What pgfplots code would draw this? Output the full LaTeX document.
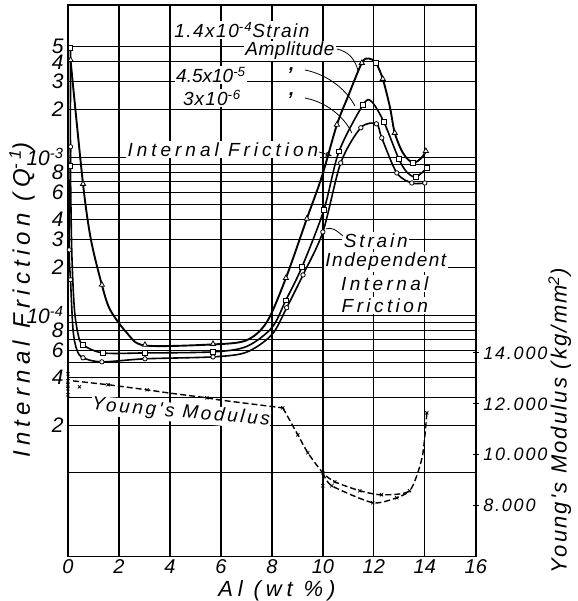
\documentclass[border=0pt]{standalone}
\usepackage{fontspec}
\setmainfont{Liberation Sans}
\newfontfamily\lz{Liberation Sans}
\newfontfamily\ltw{Liberation Sans}[LetterSpace=22]
\usepackage{pgfplots}
\pgfplotsset{compat=1.18}
\usetikzlibrary{calc,arrows.meta}

% annotation font with a given letter spacing
\newcommand{\ann}[1]{\fontsize{19}{21}\selectfont\lz\itshape\addfontfeature{LetterSpace=#1}}
\begin{document}
\begin{tikzpicture}
% ---------- internal friction (log axis, left) ----------
\begin{axis}[name=ax, scale only axis, width=408pt, height=552pt,
    xmin=0, xmax=16, ymode=log, ymin=2.94e-6, ymax=9.16e-3,
    xtick={0,2,...,16}, xticklabels={0,2,4,6,8,10,12,14,16},
    ytick={2e-5,4e-5,6e-5,8e-5,1e-4,2e-4,3e-4,4e-4,6e-4,8e-4,1e-3,2e-3,3e-3,4e-3,5e-3},
    yticklabels={2,4,6,8,10\textsuperscript{-4},2,3,4,6,8,10\textsuperscript{-3},2,3,4,5},
    minor ytick={1e-5,2e-5,3e-5,4e-5,5e-5,6e-5,7e-5,8e-5,9e-5,1e-4,2e-4,3e-4,4e-4,5e-4,6e-4,7e-4,8e-4,9e-4,1e-3,2e-3,3e-3,4e-3,5e-3},
    xmajorgrids=true, yminorgrids=true,
    major grid style={black, line width=1.3pt}, minor grid style={black, line width=0.7pt},
    major tick length=0pt, minor tick length=0pt,
    axis line style={line width=1.4pt},
    xticklabel style={font=\fontsize{20}{22}\selectfont\lz\itshape, yshift=1pt},
    yticklabel style={font=\fontsize{21}{23}\selectfont\lz\itshape, xshift=-1pt},
  ]
  % 1.4x10^-4 strain amplitude
  \addplot[black, line width=1.9pt, smooth, tension=0.5] coordinates {
    (0.1,4.11e-3)(0.59,6.75e-4)(0.9,3.0e-4)(1.33,1.55e-4)(1.65,1.08e-4)(2.31,7.7e-5)
    (3.02,6.4e-5)(5.69,6.5e-5)(7.0,6.9e-5)(7.8,9.0e-5)(8.55,1.71e-4)(9.37,4.06e-4)
    (9.96,7.5e-4)(10.55,1.6e-3)(10.98,2.4e-3)(11.53,3.94e-3)(11.8,4.2e-3)(12.08,3.94e-3)
    (12.35,3.12e-3)(12.63,2.07e-3)(12.82,1.42e-3)(13.14,1.06e-3)(13.53,9.16e-4)
    (13.88,9.9e-4)(14.04,1.09e-3)
  };
  % 4.5x10^-5
  \addplot[black, line width=1.6pt, smooth, tension=0.5] coordinates {
    (0.1,4.9e-3)(0.1,8.77e-4)(0.15,2.5e-4)(0.25,1.1e-4)(0.4,7.5e-5)(0.59,6.46e-5)
    (1.37,5.74e-5)(3.02,5.74e-5)(5.69,5.83e-5)(7.0,6.3e-5)(8.0,8.3e-5)(8.55,1.24e-4)
    (9.18,2.01e-4)(10.04,4.62e-4)(10.63,1.08e-3)(11.57,2.13e-3)(11.9,2.25e-3)
    (12.39,1.67e-3)(12.98,9.7e-4)(13.3,8.0e-4)(13.65,7.47e-4)(14.08,8.5e-4)
  };
  % 3x10^-6
  \addplot[black, line width=1.6pt, smooth, tension=0.5] coordinates {
    (0.1,1.16e-3)(0.05,2.58e-4)(0.1,1.67e-4)(0.2,8e-5)(0.35,6e-5)(0.59,5.35e-5)
    (1.33,5.04e-5)(3.02,5.27e-5)(5.69,5.42e-5)(7.0,5.8e-5)(8.0,7.5e-5)(8.58,1.11e-4)
    (9.22,1.79e-4)(10.0,3.35e-4)(10.7,9.16e-4)(11.49,1.53e-3)(12.1,1.62e-3)
    (12.31,1.32e-3)(12.9,7.92e-4)(13.49,6.84e-4)(14.0,6.84e-4)
  };
  % markers
  \addplot[only marks, mark=triangle*, mark size=3pt, mark options={fill=white, draw=black, line width=0.8pt}] coordinates {
    (0.1,4.11e-3)(0.59,6.75e-4)(1.33,1.55e-4)(3.02,6.46e-5)(5.69,6.55e-5)(8.55,1.71e-4)
    (9.37,4.06e-4)(10.55,1.6e-3)(11.53,3.94e-3)(12.35,3.12e-3)(12.82,1.42e-3)(14.04,1.09e-3)
  };
  \addplot[only marks, mark=square*, mark size=2.2pt, mark options={fill=white, draw=black, line width=0.8pt}] coordinates {
    (0.1,4.9e-3)(0.1,8.77e-4)(0.59,6.46e-5)(1.37,5.74e-5)(3.02,5.74e-5)(5.69,5.83e-5)
    (8.55,1.24e-4)(9.18,2.01e-4)(10.04,4.62e-4)(10.63,1.08e-3)(11.57,2.13e-3)
    (12.39,1.67e-3)(12.98,9.7e-4)(13.65,7.47e-4)(14.08,8.5e-4)(12.08,3.94e-3)(13.53,9.16e-4)
  };
  \addplot[only marks, mark=*, mark size=2.2pt, mark options={fill=white, draw=black, line width=0.8pt}] coordinates {
    (0.1,1.16e-3)(0.05,2.58e-4)(0.1,1.67e-4)(0.59,5.35e-5)(1.33,5.04e-5)(3.02,5.27e-5)
    (5.69,5.42e-5)(8.58,1.11e-4)(9.22,1.79e-4)(10.0,3.35e-4)(10.7,9.16e-4)(11.49,1.53e-3)
    (12.1,1.62e-3)(12.31,1.32e-3)(12.9,7.92e-4)(13.49,6.84e-4)(14.0,6.84e-4)
  };
\end{axis}

% ---------- texts, in pixel coordinates of the picture ----------
\begin{scope}[shift={($(ax.north west)+(-68pt,5pt)$)}, x=1pt, y=-1pt]
  \path (0,0) rectangle (578,601);
  \tikzset{lab/.style={fill=white, inner sep=1.5pt}}
  \node[lab, font=\ann{8}] at (242,30) {1.4x10\textsuperscript{-4}Strain};
  \node[lab, font=\ann{3}] at (290,51) {Amplitude};
  \node[lab, font=\ann{0}] at (211,75) {4.5x10\textsuperscript{-5}};
  \node[lab, font=\ann{6}] at (212,98) {3x10\textsuperscript{-6}};
  \node[font=\ann{0}\bfseries, inner sep=0pt] at (292,71) {,};
  \node[font=\ann{0}\bfseries, inner sep=0pt] at (292,96) {,};
  \node[lab, font=\ann{21}] at (223,150) {Internal Friction};
  \node[lab, font=\ann{15}] at (376,241) {Strain};
  \node[lab, font=\ann{8}] at (386,262) {Independent};
  \node[lab, font=\ann{18}] at (385,284) {Internal};
  \node[lab, font=\ann{18}] at (385,306) {Friction};
  \node[lab, font=\ann{14}, rotate=-5, inner sep=0.5pt] at (181,413) {Young's Modulus};
  \draw[line width=0.8pt] (337,49) .. controls (350,52) and (355,60) .. (358,70);
  \draw[line width=0.8pt] (305,70) .. controls (330,75) and (348,92) .. (355,106);
  \draw[line width=0.8pt] (305,98) .. controls (330,103) and (346,120) .. (352,133);
  \draw[line width=0.8pt, -{Triangle[open, length=6pt, width=5pt]}] (319,152) -- (332,156);
  \draw[line width=0.8pt] (343,236) .. controls (336,230) and (332,227) .. (326,229);
  \node[rotate=90, inner sep=0pt, font=\fontsize{24}{26}\selectfont\ltw\itshape] at (22,300) {Internal Friction (Q\textsuperscript{-1})};
  \node[rotate=90, inner sep=0pt, font=\fontsize{22}{24}\selectfont\lz\itshape\addfontfeature{LetterSpace=10}] at (560,421) {Young's Modulus (kg/mm\textsuperscript{2})};
  \node[inner sep=0pt, font=\fontsize{22}{24}\selectfont\ltw\itshape] at (277,591) {Al (wt \%)};
\end{scope}

% ---------- Young's modulus (linear axis, right) ----------
\begin{axis}[scale only axis, width=408pt, height=552pt,
    xmin=0, xmax=16, ymin=6000, ymax=27647, scaled y ticks=false,
    axis x line=none, axis y line*=right,
    ytick={8000,10000,12000,14000}, yticklabels={8.000,10.000,12.000,14.000},
    yticklabel style={font=\fontsize{18}{20}\selectfont\lz\itshape\addfontfeature{LetterSpace=10}, xshift=1pt},
    major tick length=6pt, tick align=center, tick style={black, line width=1pt},
    axis line style={line width=1.4pt},
  ]
  \addplot[black, line width=1.4pt, dash pattern=on 6pt off 3pt] coordinates {
    (0.2,12900)(1.57,12750)(3.1,12550)(3.92,12430)(5.45,12235)(5.88,12160)(8.43,11840)
  };
  \addplot[black, line width=1.4pt, dash pattern=on 6pt off 3pt, smooth, tension=0.4] coordinates {
    (8.43,11840)(9.02,10780)(9.41,10080)(10.0,9290)(10.47,8940)(11.45,8590)(12.3,8430)
    (13.4,8590)(13.9,9920)(14.08,11650)
  };
  \addplot[black, line width=1.4pt, dash pattern=on 6pt off 3pt, smooth, tension=0.4] coordinates {
    (10.0,9290)(10.35,8784)(11.96,8118)(12.9,8314)(13.4,8549)
  };
  \addplot[only marks, mark=x, mark size=2.2pt, mark options={line width=0.8pt}] coordinates {
    (0,13176)(0,12902)(0,12745)(0,12588)(0,12353)(0.45,12666)
    (1.57,12750)(3.1,12549)(5.45,12235)(8.43,11843)(9.02,10784)(9.41,10078)(10.0,9294)
    (10.47,8941)(11.45,8588)(12.3,8431)(13.4,8588)(14.08,11647)
    (10.0,8784)(10.35,8784)(11.96,8118)(12.9,8314)
  };
\end{axis}
\end{tikzpicture}
\end{document}
